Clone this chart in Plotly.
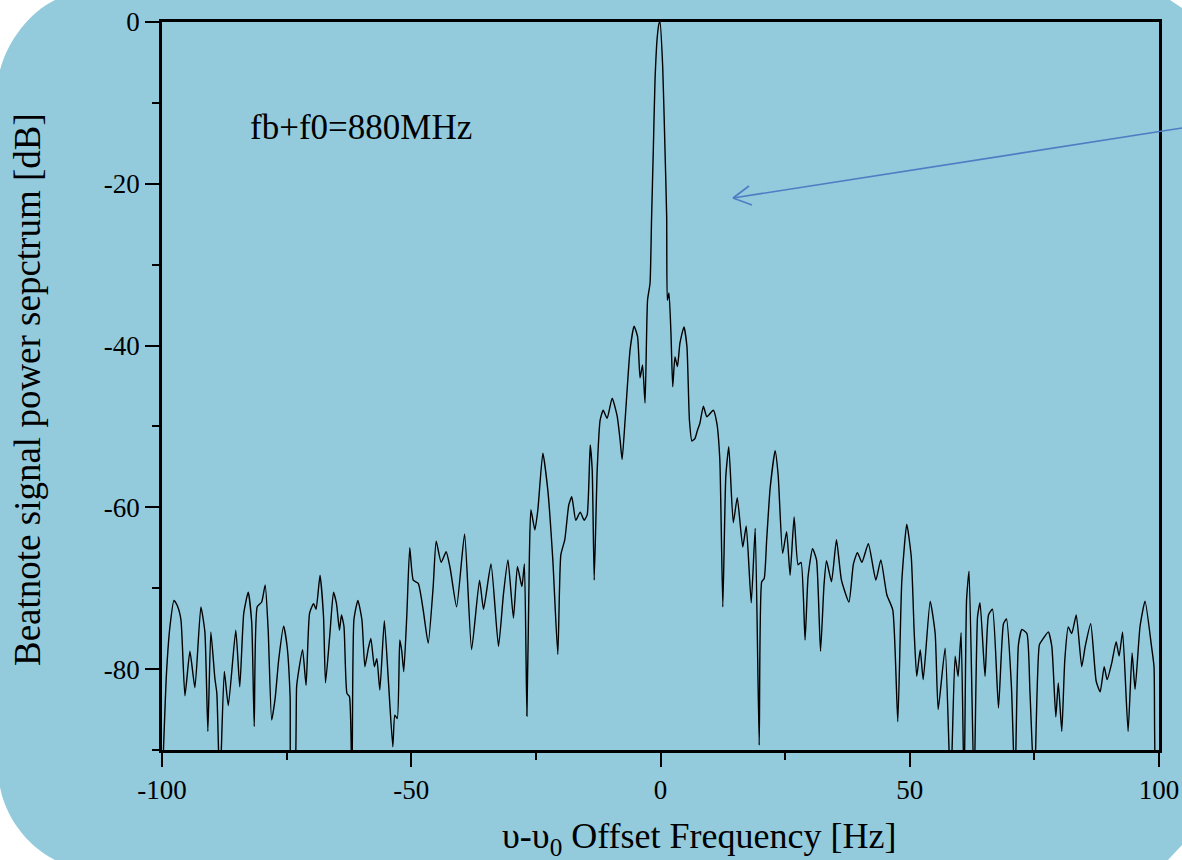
import plotly.graph_objects as go

# offset frequency [Hz] and beatnote power [dB]
freq = [
    -100.0, -99.1, -98.4, -97.6, -96.9, -96.2, -95.4, -94.4, -93.4, -92.2,
    -91.4, -90.8, -90.2, -89.4, -89.0, -88.4, -87.5, -86.7, -85.2, -84.4,
    -83.6, -82.7, -82.0, -81.5, -80.9, -80.0, -79.3, -78.7, -78.0, -77.3,
    -76.6, -75.6, -74.9, -74.3, -74.0, -73.5, -73.0, -72.7, -71.8, -71.1,
    -70.4, -69.6, -69.1, -68.3, -67.6, -67.2, -66.3, -65.6, -65.0, -64.4,
    -64.0, -63.5, -62.9, -62.4, -61.9, -61.5, -60.7, -59.9, -59.3, -58.6,
    -58.1, -57.4, -56.9, -56.3, -55.4, -54.6, -53.7, -53.3, -52.8, -52.3,
    -51.9, -51.5, -50.9, -50.3, -49.6, -48.6, -47.6, -46.6, -45.6, -45.0,
    -44.0, -43.0, -42.2, -40.9, -39.3, -37.9, -36.3, -35.5, -34.0, -32.5,
    -31.5, -30.6, -29.5, -28.7, -27.8, -27.3, -26.8, -26.3, -26.0, -25.2,
    -24.6, -23.6, -22.6, -21.6, -20.6, -20.0, -19.2, -18.4, -17.8, -17.0,
    -16.1, -15.3, -14.7, -14.1, -13.7, -13.3, -12.7, -12.1, -11.5, -10.7,
    -9.7, -8.7, -8.1, -7.7, -7.1, -6.1, -5.3, -4.6, -4.1, -3.6,
    -3.1, -2.6, -2.1, -1.8, -1.44, -1.1, -0.64, -0.3, -0.1, 0.44,
    0.9, 1.24, 1.37, 1.7, 2.1, 2.45, 2.9, 3.4, 3.9, 4.7,
    5.3, 5.8, 6.3, 6.9, 7.4, 7.9, 8.6, 9.3, 10.6, 11.3,
    11.9, 12.5, 13.1, 13.7, 14.6, 15.4, 16.5, 17.2, 18.2, 19.0,
    19.8, 20.3, 20.8, 21.3, 22.0, 23.0, 23.6, 24.5, 25.3, 26.0,
    26.8, 27.6, 28.2, 29.0, 29.6, 30.5, 31.3, 32.1, 32.8, 33.3,
    34.3, 35.3, 36.3, 37.8, 38.7, 39.5, 40.4, 41.7, 43.2, 44.2,
    45.4, 46.6, 47.6, 48.4, 49.4, 50.3, 50.9, 51.4, 52.1, 52.7,
    54.1, 55.1, 55.7, 57.1, 58.2, 59.1, 59.7, 60.3, 60.9, 61.4,
    61.9, 62.9, 63.6, 64.1, 65.1, 65.8, 66.6, 67.8, 68.8, 69.4,
    70.4, 71.1, 71.8, 72.5, 73.5, 74.1, 75.0, 76.0, 76.7, 77.8,
    78.5, 79.3, 79.8, 80.5, 81.1, 81.8, 82.5, 83.4, 84.5, 85.2,
    86.3, 87.4, 88.2, 89.0, 89.6, 90.5, 91.4, 92.0, 92.7, 93.8,
    94.6, 95.2, 96.2, 97.2, 98.5, 99.0, 99.5, 100.0,
]
power = [
    -95.0, -80.5, -74.7, -71.5, -72.2, -73.9, -83.3, -77.8, -82.3, -72.3,
    -75.4, -87.7, -75.4, -81.1, -83.0, -95.0, -80.3, -84.5, -75.2, -82.2,
    -73.1, -70.5, -74.3, -87.1, -72.3, -71.7, -69.6, -75.2, -86.3, -83.6,
    -78.9, -74.7, -77.2, -83.4, -95.0, -95.0, -82.2, -80.7, -77.6, -82.0,
    -73.1, -71.9, -72.6, -68.4, -73.5, -81.7, -75.5, -70.5, -71.9, -75.2,
    -73.3, -74.7, -83.0, -83.4, -95.0, -73.9, -71.5, -73.9, -79.7, -77.4,
    -76.2, -79.7, -78.7, -82.6, -74.0, -81.3, -89.6, -85.7, -86.1, -76.4,
    -77.8, -80.3, -73.5, -65.0, -69.0, -69.4, -72.7, -76.8, -69.8, -64.2,
    -66.8, -65.5, -67.5, -72.3, -63.3, -77.6, -69.0, -72.6, -67.0, -77.2,
    -70.7, -66.5, -73.7, -67.3, -69.8, -67.0, -85.8, -66.0, -60.3, -62.8,
    -60.3, -53.3, -57.9, -66.5, -78.2, -65.9, -64.0, -59.7, -58.7, -61.6,
    -60.6, -61.6, -60.9, -52.3, -55.4, -69.0, -55.4, -49.2, -48.0, -49.0,
    -46.5, -48.7, -51.7, -54.1, -49.2, -40.5, -37.6, -38.9, -44.0, -42.4,
    -47.1, -34.4, -32.3, -24.5, -15.8, -7.2, -1.8, -0.2, 0.0, -5.5,
    -15.8, -24.1, -34.4, -33.5, -38.5, -45.1, -41.4, -42.6, -39.7, -37.7,
    -40.1, -49.2, -51.8, -51.5, -50.5, -49.6, -47.5, -48.8, -48.0, -49.6,
    -54.1, -72.3, -56.2, -52.5, -61.9, -58.8, -64.9, -62.3, -71.8, -62.6,
    -89.4, -69.2, -68.8, -64.0, -57.6, -53.0, -56.0, -65.7, -63.0, -68.4,
    -61.2, -67.1, -66.8, -76.4, -68.6, -65.1, -66.5, -77.8, -69.6, -66.6,
    -69.2, -64.0, -69.0, -71.7, -67.0, -65.6, -66.8, -64.5, -69.0, -66.5,
    -70.8, -72.7, -86.5, -69.2, -62.1, -66.1, -75.6, -80.9, -77.6, -81.3,
    -71.6, -75.6, -85.0, -77.4, -95.0, -78.4, -80.9, -75.5, -95.0, -71.4,
    -67.9, -95.0, -73.5, -71.8, -80.9, -73.3, -72.6, -84.8, -74.4, -73.8,
    -82.2, -95.0, -77.0, -75.1, -75.6, -82.6, -95.0, -77.0, -76.3, -75.4,
    -77.2, -85.9, -81.7, -87.7, -78.9, -74.8, -75.6, -73.3, -79.7, -77.2,
    -74.4, -81.5, -82.8, -79.7, -81.3, -79.3, -76.6, -78.4, -75.4, -87.7,
    -78.0, -82.5, -74.7, -71.6, -77.2, -79.7, -95.0, -95.0,
]

x_ticks = [-100, -50, 0, 50, 100]
x_ticktext = ["-100", "-50", "0", "50", "100"]
y_ticks = [-80, -60, -40, -20, 0]
y_ticktext = ["-80", "-60", "-40", "-20", "0"]

W, H = 1182, 860
ML, MR, MT, MB = 162, 23, 22, 110
PW, PH = W - ML - MR, H - MT - MB
FONT = "Liberation Serif, Times New Roman, serif"
BG = "#93CBDD"


def px(x):
    return (x - ML) / PW


def py(y):
    return (H - MB - y) / PH


fig = go.Figure(go.Scatter(
    x=freq, y=power, mode="lines",
    line=dict(color="black", width=1.4, shape="spline", smoothing=0.5),
    hoverinfo="skip",
))

# rounded light blue slide background
outline = [
    ("M", 55, 0), ("L", 1170, 0), ("L", 1182, 8), ("L", 1182, 845),
    ("L", 1168, 860), ("L", 55, 860),
]
path = " ".join(f"{c} {px(a):.4f},{py(b):.4f}" for c, a, b in outline)
path += (f" C {px(25):.4f},{py(845):.4f} {px(5):.4f},{py(815):.4f} {px(0):.4f},{py(787):.4f}"
         f" L {px(0):.4f},{py(70):.4f}"
         f" C {px(8):.4f},{py(40):.4f} {px(30):.4f},{py(12):.4f} {px(55):.4f},{py(0):.4f} Z")

shapes = [dict(type="path", xref="paper", yref="paper", path=path,
               fillcolor=BG, line=dict(width=0), layer="below")]

# blue pointer arrow with open head
arrow_col = "#4F7DC3"
for (x0, y0, x1, y1) in [(1182, 128, 733, 198), (733, 198, 749, 186), (733, 198, 752, 205)]:
    shapes.append(dict(type="line", xref="paper", yref="paper",
                       x0=px(x0), y0=py(y0), x1=px(x1), y1=py(y1),
                       line=dict(color=arrow_col, width=1.6)))

axis_common = dict(
    showline=True, linecolor="black", linewidth=2.5, mirror=True,
    ticks="outside", ticklen=14, tickwidth=2, tickcolor="black",
    showgrid=False, zeroline=False, automargin=False,
    tickfont=dict(family=FONT, size=27, color="black"),
)

fig.update_xaxes(range=[-100, 100], tickvals=x_ticks, ticktext=x_ticktext,
                 minor=dict(dtick=25, tick0=-100, ticks="outside", ticklen=7,
                            tickwidth=2, tickcolor="black"),
                 **axis_common)
fig.update_yaxes(range=[-90, 0], tickvals=y_ticks, ticktext=y_ticktext,
                 minor=dict(dtick=10, tick0=-90, ticks="outside", ticklen=7,
                            tickwidth=2, tickcolor="black"),
                 **axis_common)

fig.update_layout(
    width=W, height=H,
    margin=dict(l=ML, r=MR, t=MT, b=MB, autoexpand=False),
    paper_bgcolor="white", plot_bgcolor="rgba(0,0,0,0)",
    showlegend=False,
    shapes=shapes,
    annotations=[
        dict(x=-60, y=-13, xref="x", yref="y", text="fb+f0=880MHz",
             xanchor="center", yanchor="middle",
             showarrow=False, font=dict(family=FONT, size=35, color="black")),
        dict(x=px(27), y=py(390), xref="paper", yref="paper",
             xanchor="center", yanchor="middle",
             text="Beatnote signal power sepctrum [dB]", textangle=-90,
             showarrow=False, font=dict(family=FONT, size=37, color="black")),
        dict(x=px(699), y=py(838), xref="paper", yref="paper",
             xanchor="center", yanchor="middle",
             text="υ-υ<sub>0</sub> Offset Frequency [Hz]",
             showarrow=False, font=dict(family=FONT, size=36, color="black")),
    ],
)

# pin the figure to the window's top-left corner so nothing overflows
page_js = ("document.body.style.margin='0';"
           "document.documentElement.style.overflow='hidden';"
           "var g=document.querySelector('.plotly-graph-div');"
           "g.style.position='fixed';g.style.left='0px';g.style.top='0px';")
fig.write_html("out.html", config={"displayModeBar": False}, post_script=page_js)
